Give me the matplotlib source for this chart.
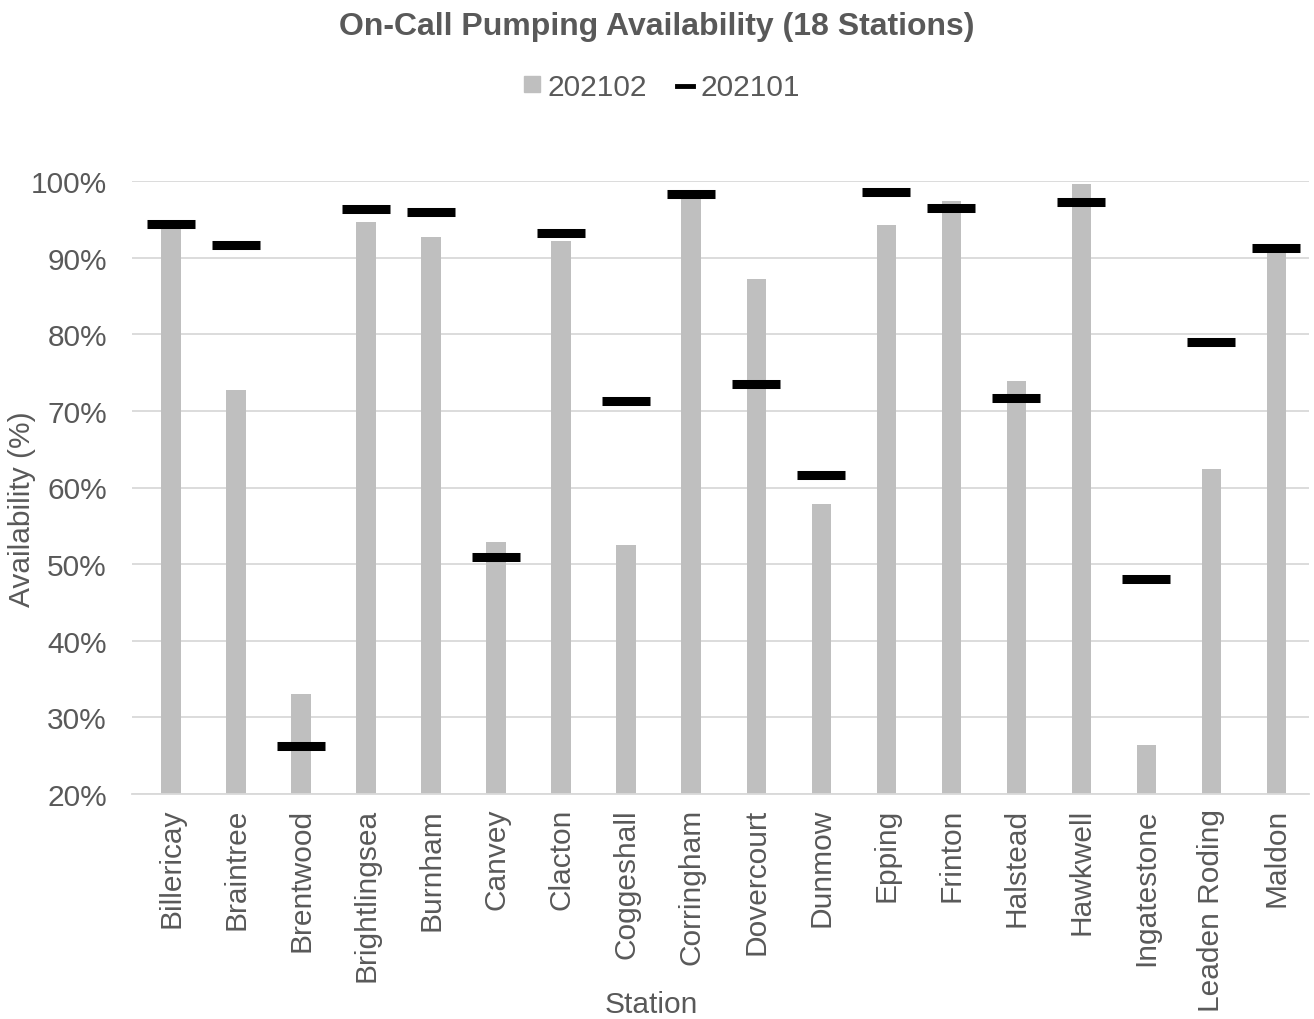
import matplotlib.pyplot as plt
import matplotlib.ticker as mticker
from matplotlib.lines import Line2D
from matplotlib.patches import Patch
import numpy as np

plt.rcParams['font.family'] = ['Liberation Sans', 'DejaVu Sans']

stations = ['Billericay', 'Braintree', 'Brentwood', 'Brightlingsea', 'Burnham', 'Canvey',
            'Clacton', 'Coggeshall', 'Corringham', 'Dovercourt', 'Dunmow', 'Epping',
            'Frinton', 'Halstead', 'Hawkwell', 'Ingatestone', 'Leaden Roding', 'Maldon']
# 202102 availability (bars)
feb = [94.0, 72.7, 33.1, 94.7, 92.7, 52.9, 92.2, 52.5, 97.8, 87.2, 57.9, 94.3,
       97.4, 73.9, 99.6, 26.4, 62.4, 90.8]
# 202101 availability (markers)
jan = [94.4, 91.7, 26.3, 96.4, 95.9, 50.9, 93.2, 71.3, 98.3, 73.5, 61.6, 98.6,
       96.5, 71.7, 97.3, 48.1, 79.0, 91.3]

grey = '#595959'
W, H = 1314, 1020
fig = plt.figure(figsize=(W / 100, H / 100), dpi=100)
ax = fig.add_axes([132 / W, 1 - 795 / H, 1177 / W, 613 / H])

x = np.arange(len(stations))
ax.bar(x, feb, width=0.3, color='#bfbfbf', zorder=2)
ax.plot(x, jan, linestyle='none', marker='_', markersize=34, markeredgewidth=6.5,
        color='black', zorder=3)

ax.set_xlim(-0.6, len(stations) - 0.5)
ax.set_ylim(20, 100)
ax.set_yticks(np.arange(20, 101, 10))
ax.yaxis.set_major_formatter(mticker.FuncFormatter(lambda v, p: f'{v:.0f}%'))
ax.set_xticks(x)
ax.set_xticklabels(stations, rotation=90)
ax.tick_params(axis='both', length=0, labelsize=21.5, labelcolor=grey)
ax.tick_params(axis='y', pad=18)
ax.tick_params(axis='x', pad=10)
ax.grid(axis='y', color='#d9d9d9', linewidth=1.3, zorder=0)
for s in ['top', 'right', 'left']:
    ax.spines[s].set_visible(False)
ax.spines['bottom'].set_color('#d9d9d9')
ax.spines['bottom'].set_linewidth(1.3)

fig.text(22 / W, 1 - 509 / H, 'Availability (%)', fontsize=21.5, color=grey,
         rotation=90, ha='center', va='center')
fig.text(651 / W, 1 - 1005 / H, 'Station', fontsize=21.5, color=grey,
         ha='center', va='center')

fig.suptitle('On-Call Pumping Availability (18 Stations)', fontsize=23, fontweight='bold',
             color=grey, y=1 - 27 / H, va='center')
handles = [Patch(color='#bfbfbf'), Line2D([], [], color='black', linewidth=3.5)]
fig.legend(handles, ['202102', '202101'], loc='center',
           bbox_to_anchor=(662 / W, 1 - 88 / H), ncol=2, frameon=False,
           fontsize=21.5, labelcolor=grey, handlelength=0.55, handleheight=0.45,
           handletextpad=0.25, columnspacing=1.0)

fig.savefig('out.png', dpi=100)
